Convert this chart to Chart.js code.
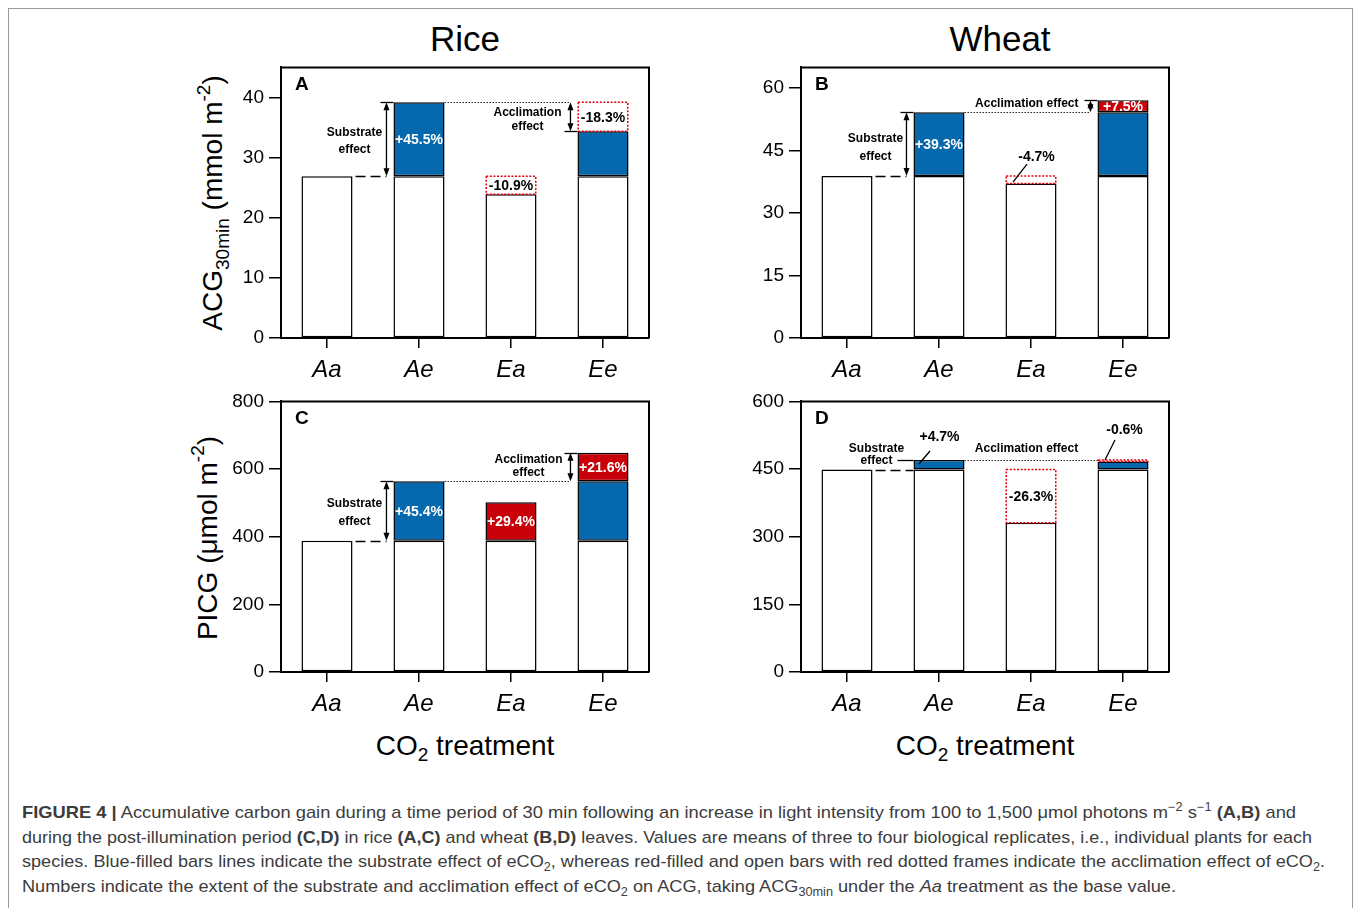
<!DOCTYPE html>
<html>
<head>
<meta charset="utf-8">
<script src="https://cdn.jsdelivr.net/npm/chart.js@4.4.1/dist/chart.umd.min.js"></script>
<style>
body{margin:0;background:#fff;font-family:"Liberation Sans",Arial,sans-serif;color:#000;}
#frame{position:absolute;left:8px;top:8px;width:1343px;height:930px;border:1px solid #9a9a9a;}
canvas{position:absolute;}
.c{position:absolute;white-space:nowrap;line-height:1;transform:translate(-50%,-50%);}
.pt{font-size:35px;}
.xt{font-size:28px;}
.yt{font-size:28px;transform:translate(-50%,-50%) rotate(-90deg);}
.yt sub,.xt sub{font-size:0.68em;vertical-align:-0.35em;}
.yt sup{font-size:0.68em;vertical-align:0.65em;}
.cap{position:absolute;left:22px;white-space:nowrap;font-family:"Liberation Sans Narrow","Liberation Sans",Arial,sans-serif;font-size:17px;color:#3c3c3c;transform-origin:0 50%;line-height:1;}
.cap sub,.cap sup{font-size:0.7em;line-height:0;}
</style>
</head>
<body>
<div id="frame"></div>

<div class="c pt" style="left:465px;top:38px;">Rice</div>
<div class="c pt" style="left:1000px;top:38px;">Wheat</div>
<div class="c yt" style="left:213px;top:203px;">ACG<sub>30min</sub> (mmol m<sup>-2</sup>)</div>
<div class="c yt" style="left:205px;top:538px;">PICG (μmol m<sup>-2</sup>)</div>
<div class="c xt" style="left:465px;top:748px;">CO<sub>2</sub> treatment</div>
<div class="c xt" style="left:985px;top:748px;">CO<sub>2</sub> treatment</div>

<canvas id="pA" width="460" height="339" style="left:200px;top:51px;"></canvas>
<canvas id="pB" width="460" height="339" style="left:720px;top:51px;"></canvas>
<canvas id="pC" width="460" height="339" style="left:200px;top:385px;"></canvas>
<canvas id="pD" width="460" height="339" style="left:720px;top:385px;"></canvas>

<div class="cap" data-w="1274" style="top:804px;"><b>FIGURE 4 |</b> Accumulative carbon gain during a time period of 30 min following an increase in light intensity from 100 to 1,500 μmol photons m<sup>−2</sup> s<sup>−1</sup> <b>(A,B)</b> and</div>
<div class="cap" data-w="1290" style="top:829px;">during the post-illumination period <b>(C,D)</b> in rice <b>(A,C)</b> and wheat <b>(B,D)</b> leaves. Values are means of three to four biological replicates, i.e., individual plants for each</div>
<div class="cap" data-w="1303" style="top:853px;">species. Blue-filled bars lines indicate the substrate effect of eCO<sub>2</sub>, whereas red-filled and open bars with red dotted frames indicate the acclimation effect of eCO<sub>2</sub>.</div>
<div class="cap" data-w="1154" style="top:878px;">Numbers indicate the extent of the substrate and acclimation effect of eCO<sub>2</sub> on ACG, taking ACG<sub>30min</sub> under the <i>Aa</i> treatment as the base value.</div>

<script>
var categories = ['Aa', 'Ae', 'Ea', 'Ee'];

// A - rice, ACG30min (mmol m-2)
var riceAcgOpen    = [26.9, 26.9, 23.9, 26.9];
var riceAcgBlue    = [null, [26.9, 39.2], null, [26.9, 34.4]];
var riceAcgRed     = [null, null, null, null];
var riceAcgDotted  = [null, null, [23.9, 26.9], [34.4, 39.2]];
var riceAcgPct     = ['', '+45.5%', '-10.9%', '-18.3%'];

// B - wheat, ACG30min
var wheatAcgOpen   = [38.9, 38.9, 37.1, 38.9];
var wheatAcgBlue   = [null, [38.9, 54.2], null, [38.9, 54.2]];
var wheatAcgRed    = [null, null, null, [54.2, 57.1]];
var wheatAcgDotted = [null, null, [37.1, 38.9], null];
var wheatAcgPct    = ['', '+39.3%', '-4.7%', '+7.5%'];

// C - rice, PICG (umol m-2)
var ricePicgOpen   = [388, 388, 388, 388];
var ricePicgBlue   = [null, [388, 564], null, [388, 564]];
var ricePicgRed    = [null, null, [388, 502], [564, 648]];
var ricePicgDotted = [null, null, null, null];
var ricePicgPct    = ['', '+45.4%', '+29.4%', '+21.6%'];

// D - wheat, PICG
var wheatPicgOpen   = [449, 449, 331, 449];
var wheatPicgBlue   = [null, [449, 470], null, [449, 467]];
var wheatPicgRed    = [null, null, null, null];
var wheatPicgDotted = [null, null, [331, 449], [467, 470]];
var wheatPicgPct    = ['', '+4.7%', '-26.3%', '-0.6%'];

var FONT = '"Liberation Sans", Arial, sans-serif';
var BLUE = '#0669ad';
var RED = '#c8000a';

function mid(p) { return (p[0] + p[1]) / 2; }

// draws frame, dotted red boxes, arrows and labels on top of the bars
var notesPlugin = {
	id: 'notes',
	afterDatasetsDraw: function(chart, args, opts) {
		var ctx = chart.ctx;
		var ys = chart.scales.y;
		var area = chart.chartArea;
		var bars = chart.getDatasetMeta(0).data;
		var bar = function(i) {
			var el = bars[i];
			return {c: el.x, l: el.x - el.width / 2, r: el.x + el.width / 2};
		};
		var yp = function(v) { return ys.getPixelForValue(v); };

		ctx.save();
		// red dotted frames
		var dots = chart.data.datasets[3].data;
		chart.getDatasetMeta(3).data.forEach(function(el, i) {
			if (dots[i] == null) return;
			ctx.strokeStyle = '#e3000f';
			ctx.lineWidth = 1.5;
			ctx.setLineDash([2, 1.6]);
			ctx.strokeRect(el.x - el.width / 2 + 0.75, el.y, el.width - 1.5, el.base - el.y);
		});
		ctx.setLineDash([]);

		// box round the plot
		ctx.strokeStyle = '#000';
		ctx.lineWidth = 2;
		ctx.beginPath();
		ctx.moveTo(area.left, area.top);
		ctx.lineTo(area.right, area.top);
		ctx.lineTo(area.right, area.bottom);
		ctx.stroke();

		var arrowHead = function(x, y, dir) {
			ctx.beginPath();
			ctx.moveTo(x, y);
			ctx.lineTo(x - 3, y + dir * 8);
			ctx.lineTo(x + 3, y + dir * 8);
			ctx.closePath();
			ctx.fill();
		};

		opts.items.forEach(function(n) {
			ctx.fillStyle = '#000';
			ctx.strokeStyle = '#000';
			ctx.lineWidth = 1.3;
			ctx.setLineDash([]);
			if (n.t == 'letter') {
				ctx.font = 'bold 19px ' + FONT;
				ctx.textAlign = 'left';
				ctx.textBaseline = 'middle';
				ctx.fillText(n.s, area.left + 14, area.top + 17);
			} else if (n.t == 'dash' || n.t == 'dot') {
				var y = Math.round(yp(n.v)) + 0.5;
				ctx.setLineDash(n.t == 'dash' ? [10, 5] : [1.3, 1.7]);
				ctx.lineWidth = n.t == 'dash' ? 1.5 : 1.2;
				ctx.beginPath();
				ctx.moveTo(bar(n.a).r + (n.t == 'dash' ? 3 : 0), y);
				ctx.lineTo(bar(n.b).l - (n.gap || 0), y);
				ctx.stroke();
			} else if (n.t == 'arrow') {
				var x = bar(n.at).l - 7;
				var y1 = yp(n.v1), y2 = yp(n.v2);
				var d = y2 > y1 ? 1 : -1;
				ctx.beginPath();
				ctx.moveTo(x, y1 + d * 4);
				ctx.lineTo(x, y2 - d * 4);
				ctx.stroke();
				arrowHead(x, y1, d);
				arrowHead(x, y2, -d);
				(n.caps || []).forEach(function(v) {
					var yy = Math.round(yp(v)) + 0.5;
					ctx.beginPath();
					ctx.moveTo(x - 6, yy);
					ctx.lineTo(bar(n.at).l, yy);
					ctx.stroke();
				});
			} else if (n.t == 'text') {
				var b = bar(n.at);
				var x0 = (n.from == 'l' ? b.l : b.c) + n.dx;
				var y0 = yp(n.v) + n.dy;
				ctx.font = 'bold ' + (n.size || 12) + 'px ' + FONT;
				ctx.textAlign = n.align || 'center';
				ctx.textBaseline = 'middle';
				var g = n.gap || 0;
				n.lines.forEach(function(s, k) {
					ctx.fillText(s, x0, y0 + (k - (n.lines.length - 1) / 2) * g);
				});
			} else if (n.t == 'pct') {
				var b2 = bar(n.i);
				ctx.font = 'bold 14px ' + FONT;
				ctx.textAlign = 'center';
				ctx.textBaseline = 'middle';
				ctx.fillStyle = n.color || '#000';
				var tx, ty;
				if (n.ds != null) {
					var el = chart.getDatasetMeta(n.ds).data[n.i];
					tx = el.x; ty = (el.y + el.base) / 2;
				} else {
					tx = b2.c + n.dx; ty = yp(n.v) + n.dy;
				}
				ctx.fillText(opts.pct[n.i], tx, ty + 1);
				if (n.lead) {
					ctx.beginPath();
					ctx.moveTo(b2.c + n.lead[0], yp(n.v) + n.lead[1]);
					ctx.lineTo(b2.c + n.lead[2], yp(n.v) + n.lead[3]);
					ctx.stroke();
				}
			} else if (n.t == 'line') {
				var b3 = bar(n.at);
				var yy2 = Math.round(yp(n.v)) + 0.5;
				ctx.beginPath();
				ctx.moveTo(b3.l + n.dx1, yy2);
				ctx.lineTo(b3.l + n.dx2, yy2);
				ctx.stroke();
			}
		});
		ctx.restore();
	}
};

function makePanel(id, open, blue, red, dotted, pct, yMax, yStep, notes) {
	var common = {grouped: false, barPercentage: 0.555, categoryPercentage: 1, borderColor: '#000', borderWidth: 1.5, borderSkipped: false};
	return new Chart(document.getElementById(id), {
		type: 'bar',
		data: {
			labels: categories,
			datasets: [
				Object.assign({data: open, backgroundColor: '#fff'}, common),
				Object.assign({data: blue, backgroundColor: BLUE}, common),
				Object.assign({data: red, backgroundColor: RED}, common),
				Object.assign({data: dotted, backgroundColor: 'rgba(0,0,0,0)'}, common, {borderWidth: 0})
			]
		},
		options: {
			responsive: false,
			animation: false,
			events: [],
			layout: {padding: {top: 9, right: 11, left: 0, bottom: 0}},
			plugins: {
				legend: {display: false},
				tooltip: {enabled: false},
				notes: {items: notes, pct: pct}
			},
			scales: {
				x: {
					grid: {drawOnChartArea: false, offset: false, tickLength: 10, color: '#000', lineWidth: 1.5},
					border: {color: '#000', width: 2},
					ticks: {font: {size: 24, style: 'italic', family: FONT}, color: '#000', padding: 8},
					afterFit: function(s) { s.height = 52; }
				},
				y: {
					min: 0,
					max: yMax,
					grid: {drawOnChartArea: false, tickLength: 12, color: '#000', lineWidth: 1.5},
					border: {color: '#000', width: 2},
					ticks: {stepSize: yStep, font: {size: 19, family: FONT}, color: '#000', padding: 5},
					afterBuildTicks: function(s) {
						var t = [];
						for (var v = 0; v <= yMax; v += yStep) t.push({value: v});
						s.ticks = t;
					},
					afterFit: function(s) { s.width = 81; }
				}
			}
		},
		plugins: [notesPlugin]
	});
}

makePanel('pA', riceAcgOpen, riceAcgBlue, riceAcgRed, riceAcgDotted, riceAcgPct, 45, 10, [
	{t: 'letter', s: 'A'},
	{t: 'dash', a: 0, b: 1, v: riceAcgOpen[0], gap: 7},
	{t: 'arrow', at: 1, v1: riceAcgBlue[1][0], v2: riceAcgBlue[1][1], caps: [riceAcgBlue[1][1]]},
	{t: 'text', at: 1, from: 'l', dx: -39, v: mid(riceAcgBlue[1]), dy: 2, lines: ['Substrate', 'effect'], gap: 17},
	{t: 'pct', ds: 1, i: 1, color: '#fff'},
	{t: 'dot', a: 1, b: 3, v: riceAcgBlue[1][1], gap: 7},
	{t: 'arrow', at: 3, v1: riceAcgDotted[3][1], v2: riceAcgDotted[3][0], caps: [riceAcgDotted[3][0]]},
	{t: 'text', at: 3, from: 'l', dx: -50, v: mid(riceAcgDotted[3]), dy: 3, lines: ['Acclimation', 'effect'], gap: 14},
	{t: 'pct', ds: 3, i: 2},
	{t: 'pct', ds: 3, i: 3}
]);

makePanel('pB', wheatAcgOpen, wheatAcgBlue, wheatAcgRed, wheatAcgDotted, wheatAcgPct, 65, 15, [
	{t: 'letter', s: 'B'},
	{t: 'dash', a: 0, b: 1, v: wheatAcgOpen[0], gap: 7},
	{t: 'arrow', at: 1, v1: wheatAcgBlue[1][0], v2: wheatAcgBlue[1][1], caps: [wheatAcgBlue[1][1]]},
	{t: 'text', at: 1, from: 'l', dx: -38, v: mid(wheatAcgBlue[1]), dy: 3, lines: ['Substrate', 'effect'], gap: 18},
	{t: 'pct', ds: 1, i: 1, color: '#fff'},
	{t: 'pct', i: 2, v: wheatAcgOpen[0], dx: 5.5, dy: -20, lead: [-18, 6, -4, -12]},
	{t: 'dot', a: 1, b: 3, v: wheatAcgBlue[3][1], gap: 7},
	{t: 'arrow', at: 3, v1: wheatAcgRed[3][0], v2: wheatAcgRed[3][1], caps: [wheatAcgRed[3][1]]},
	{t: 'text', at: 3, from: 'l', dx: -19, v: mid(wheatAcgRed[3]), dy: -3, lines: ['Acclimation effect'], align: 'right'},
	{t: 'pct', ds: 2, i: 3, color: '#fff'}
]);

makePanel('pC', ricePicgOpen, ricePicgBlue, ricePicgRed, ricePicgDotted, ricePicgPct, 800, 200, [
	{t: 'letter', s: 'C'},
	{t: 'dash', a: 0, b: 1, v: ricePicgOpen[0], gap: 7},
	{t: 'arrow', at: 1, v1: ricePicgBlue[1][0], v2: ricePicgBlue[1][1], caps: [ricePicgBlue[1][1]]},
	{t: 'text', at: 1, from: 'l', dx: -39, v: mid(ricePicgBlue[1]), dy: 2, lines: ['Substrate', 'effect'], gap: 18},
	{t: 'pct', ds: 1, i: 1, color: '#fff'},
	{t: 'pct', ds: 2, i: 2, color: '#fff'},
	{t: 'dot', a: 1, b: 3, v: ricePicgBlue[3][1], gap: 7},
	{t: 'arrow', at: 3, v1: ricePicgRed[3][0], v2: ricePicgRed[3][1], caps: [ricePicgRed[3][1]]},
	{t: 'text', at: 3, from: 'l', dx: -49, v: mid(ricePicgRed[3]), dy: -1, lines: ['Acclimation', 'effect'], gap: 13.5},
	{t: 'pct', ds: 2, i: 3, color: '#fff'}
]);

makePanel('pD', wheatPicgOpen, wheatPicgBlue, wheatPicgRed, wheatPicgDotted, wheatPicgPct, 600, 150, [
	{t: 'letter', s: 'D'},
	{t: 'dash', a: 0, b: 1, v: wheatPicgOpen[0], gap: 0},
	{t: 'text', at: 1, from: 'l', dx: -37, v: wheatPicgBlue[1][1], dy: -5.5, lines: ['Substrate', 'effect'], gap: 12},
	{t: 'line', at: 1, v: wheatPicgBlue[1][1], dx1: -16, dx2: 0},
	{t: 'pct', i: 1, v: wheatPicgBlue[1][1], dx: 0.5, dy: -24, lead: [-20, 4, -9, -9]},
	{t: 'dot', a: 1, b: 3, v: wheatPicgBlue[1][1], gap: 0},
	{t: 'text', at: 2, from: 'c', dx: -4.5, v: wheatPicgBlue[1][1], dy: -11.5, lines: ['Acclimation effect']},
	{t: 'pct', ds: 3, i: 2},
	{t: 'pct', i: 3, v: wheatPicgDotted[3][1], dx: 1.5, dy: -31, lead: [-18, 0, -8, -20]}
]);

// squeeze caption lines to the widths of the printed figure
document.querySelectorAll('.cap').forEach(function(el) {
	var w = el.getBoundingClientRect().width;
	el.style.transform = 'scaleX(' + (parseFloat(el.dataset.w) / w) + ')';
});
</script>
</body>
</html>
